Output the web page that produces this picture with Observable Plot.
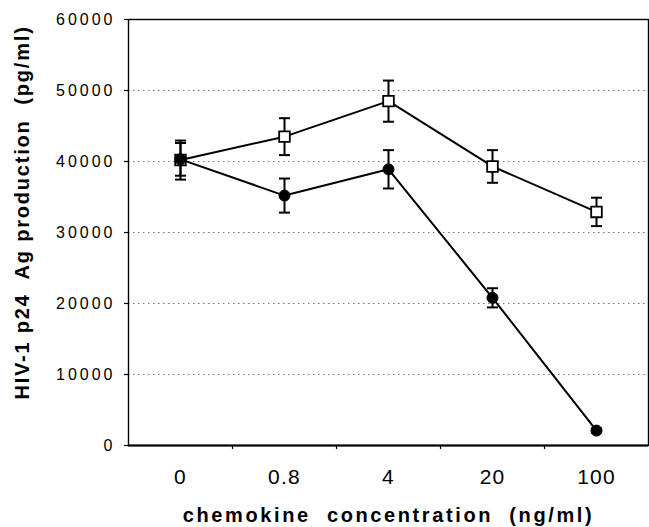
<!DOCTYPE html>
<html><head><meta charset="utf-8">
<script src="https://cdn.jsdelivr.net/npm/d3@7"></script>
<script src="https://cdn.jsdelivr.net/npm/@observablehq/plot@0.6"></script>
<style>
body{margin:0;background:#fff}
svg text{white-space:pre}
</style>
</head><body><div id="chart"></div>
<script>
// x categories (ng/ml)
const concentrations = ["0", "0.8", "4", "20", "100"];
// open squares series
const squareMean = [40200, 43500, 48500, 39300, 32900];
const squareErr  = [2750, 2600, 2900, 2300, 2000];
// filled circles series
const circleMean = [40300, 35200, 38900, 20800, 2100];
const circleErr  = [2300, 2400, 2700, 1350, 300];
// y ticks and gridlines
const yTicks = [0, 10000, 20000, 30000, 40000, 50000, 60000];
const gridValues = [10000, 20000, 30000, 40000, 50000];
const xTitle = "chemokine  concentration  (ng/ml)";
const yTitle = "HIV-1 p24  Ag production  (pg/ml)";

const squares = concentrations.map((c, i) => ({c, v: squareMean[i], lo: squareMean[i] - squareErr[i], hi: squareMean[i] + squareErr[i]}));
const circles = concentrations.map((c, i) => ({c, v: circleMean[i], lo: circleMean[i] - circleErr[i], hi: circleMean[i] + circleErr[i]}));
const errs = [...squares, ...circles];

// horizontal cap symbol for error bars (half-width = r)
const capSymbol = {draw(ctx, size) { const w = Math.sqrt(size / Math.PI); ctx.moveTo(-w, 0); ctx.lineTo(w, 0); }};

const chart = Plot.plot({
  width: 649, height: 527,
  marginLeft: 128, marginRight: 1, marginTop: 19, marginBottom: 82,
  style: {fontFamily: "'Liberation Sans', Arial, sans-serif", fontSize: "16px", background: "white", color: "black", overflow: "visible"},
  x: {type: "point", domain: concentrations, padding: 0.5},
  y: {domain: [0, 60000]},
  marks: [
    Plot.ruleY(gridValues, {stroke: "#777", strokeDasharray: "1.5,3.5", strokeWidth: 1}),
    Plot.axisY({ticks: yTicks, tickSize: 4, tickPadding: 9, tickFormat: "d", label: null, fontSize: 16, stroke: "black", strokeWidth: 1.2}),
    Plot.axisX({tickSize: 0, tickPadding: 24, label: null, fontSize: 21}),
    Plot.axisX(concentrations.slice(0, 4), {tickSize: 4, tickFormat: () => "", label: null, dx: 52, strokeWidth: 1.2}),
    Plot.frame({stroke: "black", strokeWidth: 1.4}),
    Plot.ruleY([0], {stroke: "black", strokeWidth: 2}),
    Plot.line(circles, {x: "c", y: "v", stroke: "black", strokeWidth: 2}),
    Plot.line(squares, {x: "c", y: "v", stroke: "black", strokeWidth: 2}),
    Plot.ruleX(errs, {x: "c", y1: "lo", y2: "hi", stroke: "black", strokeWidth: 2}),
    Plot.dot(errs, {x: "c", y: "lo", symbol: capSymbol, r: 5.5, fill: "none", stroke: "black", strokeWidth: 2}),
    Plot.dot(errs, {x: "c", y: "hi", symbol: capSymbol, r: 5.5, fill: "none", stroke: "black", strokeWidth: 2}),
    Plot.dot(squares, {x: "c", y: "v", symbol: "square", r: 6, fill: "white", stroke: "black", strokeWidth: 1.8}),
    Plot.dot(circles, {x: "c", y: "v", symbol: "circle", r: 5.5, fill: "black", stroke: "black", strokeWidth: 1}),
    Plot.text([xTitle], {frameAnchor: "bottom", dy: 70.5, fontSize: 20, fontWeight: "bold", lineAnchor: "middle", textAnchor: "middle"}),
    Plot.text([yTitle], {frameAnchor: "left", rotate: -90, dx: -106, dy: -20, fontSize: 20, fontWeight: "bold", lineAnchor: "middle", textAnchor: "middle"})
  ]
});
// letter spacing to match the reference's wide type
d3.select(chart).selectAll("text").each(function() {
  const t = this.textContent;
  const anchorEl = this.closest("[text-anchor]");
  const anchor = anchorEl ? anchorEl.getAttribute("text-anchor") : null;
  let ls = null;
  if (t === xTitle) ls = "2.6px";
  else if (t === yTitle) ls = "1.8px";
  else if (anchor === "end") ls = "3px";
  else if (t !== "") ls = "1.2px";
  if (ls) this.style.letterSpacing = ls;
});
document.getElementById("chart").appendChild(chart);
</script>
</body></html>
